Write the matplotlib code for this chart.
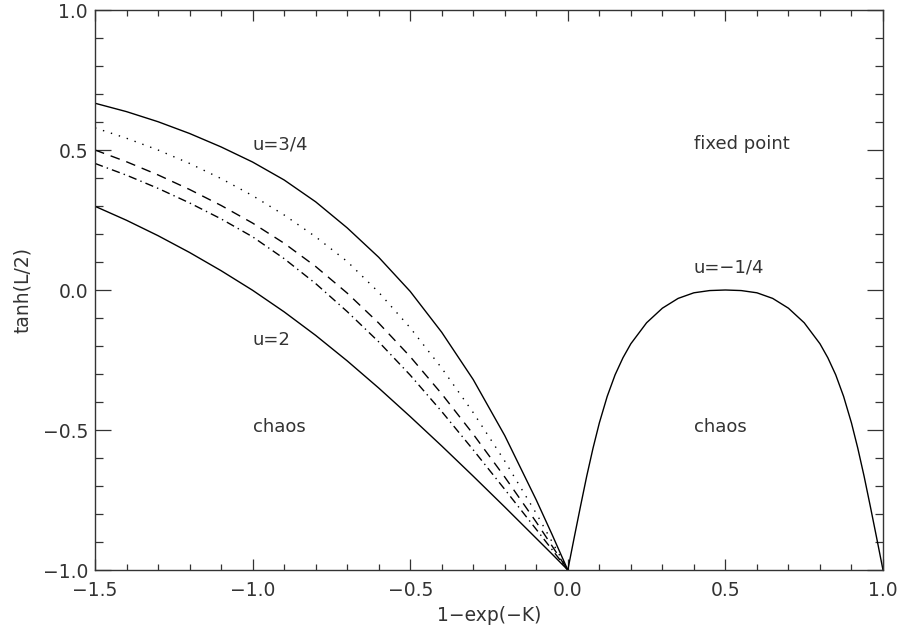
import matplotlib
matplotlib.use('Agg')
import matplotlib.pyplot as plt
from matplotlib.ticker import MultipleLocator

# values
x_left = [-1.5, -1.4, -1.3, -1.2, -1.1, -1.0, -0.9, -0.8, -0.7, -0.6, -0.5, -0.4, -0.3, -0.2, -0.1, -0.05, 0.0]
y_u34 = [0.667, 0.637, 0.601, 0.559, 0.511, 0.457, 0.393, 0.315, 0.222, 0.117, -0.005, -0.151, -0.320, -0.520, -0.750, -0.873, -1.0]
y_dot = [0.579, 0.542, 0.500, 0.452, 0.398, 0.337, 0.268, 0.190, 0.102, -0.008, -0.135, -0.279, -0.438, -0.611, -0.798, -0.899, -1.0]
y_dash = [0.500, 0.458, 0.411, 0.359, 0.302, 0.239, 0.167, 0.084, -0.011, -0.118, -0.238, -0.371, -0.515, -0.668, -0.829, -0.914, -1.0]
y_dashdot = [0.452, 0.410, 0.363, 0.311, 0.254, 0.190, 0.112, 0.023, -0.077, -0.185, -0.304, -0.434, -0.571, -0.712, -0.855, -0.927, -1.0]
y_u2 = [0.299, 0.249, 0.194, 0.134, 0.069, -0.001, -0.078, -0.162, -0.253, -0.350, -0.452, -0.557, -0.665, -0.775, -0.887, -0.943, -1.0]

x_right = [0.0, 0.02, 0.04, 0.06, 0.08, 0.1, 0.125, 0.15, 0.175, 0.2, 0.25, 0.3, 0.35, 0.4, 0.45, 0.5,
           0.55, 0.6, 0.65, 0.7, 0.75, 0.8, 0.825, 0.85, 0.875, 0.9, 0.92, 0.94, 0.96, 0.98, 1.0]
y_um14 = [-1.0, -0.886, -0.774, -0.665, -0.565, -0.475, -0.380, -0.303, -0.242, -0.192, -0.117, -0.065, -0.030, -0.010, -0.002, 0.0,
          -0.002, -0.010, -0.030, -0.065, -0.117, -0.192, -0.242, -0.303, -0.380, -0.475, -0.565, -0.665, -0.774, -0.886, -1.0]

labels = ['u=3/4', 'u=2', 'chaos', 'fixed point', 'u=\u22121/4', 'chaos']
label_x = [-1.0, -1.0, -1.0, 0.4, 0.4, 0.4]
label_y = [0.52, -0.18, -0.49, 0.52, 0.08, -0.49]

plt.rcParams['font.family'] = ['DejaVu Sans']
fig = plt.figure(figsize=(8.97, 6.27), dpi=100)
ax = fig.add_axes([95/897, 57/627, 788/897, 560/627])

ax.plot(x_left, y_u34, color='black', lw=1.0)
ax.plot(x_left, y_dot, color='black', lw=1.0, linestyle=(0, (1, 5)))
ax.plot(x_left, y_dash, color='black', lw=1.0, linestyle=(0, (7, 5)))
ax.plot(x_left, y_dashdot, color='black', lw=1.0, linestyle=(0, (6, 3, 1, 3)))
ax.plot(x_left, y_u2, color='black', lw=1.0)
ax.plot(x_right, y_um14, color='black', lw=1.0)

for t, xx, yy in zip(labels, label_x, label_y):
    ax.text(xx, yy, t, fontsize=13, ha='left', va='center', color='#333333')

ax.set_xlim(-1.5, 1.0)
ax.set_ylim(-1.0, 1.0)
ax.xaxis.set_major_locator(MultipleLocator(0.5))
ax.xaxis.set_minor_locator(MultipleLocator(0.1))
ax.yaxis.set_major_locator(MultipleLocator(0.5))
ax.yaxis.set_minor_locator(MultipleLocator(0.1))
ax.xaxis.set_major_formatter(lambda v, p: f'{v:.1f}'.replace('-', '\u2212'))
ax.yaxis.set_major_formatter(lambda v, p: f'{v:.1f}'.replace('-', '\u2212'))

ax.tick_params(axis='both', which='both', direction='in', top=True, right=True,
               labelsize=13.5, width=0.9, labelcolor='#333333', color='#333333')
ax.tick_params(axis='x', which='major', length=8, pad=8)
ax.tick_params(axis='x', which='minor', length=4)
ax.tick_params(axis='y', which='major', length=11.3, pad=5)
ax.tick_params(axis='y', which='minor', length=5.7)
for s in ax.spines.values():
    s.set_linewidth(1.0)
    s.set_color('#333333')

ax.set_xlabel('1\u2212exp(\u2212K)', fontsize=13.5, labelpad=4, color='#333333')
ax.set_ylabel('tanh(L/2)', fontsize=13.5, labelpad=8, color='#333333')

fig.savefig('out.png', dpi=100)
